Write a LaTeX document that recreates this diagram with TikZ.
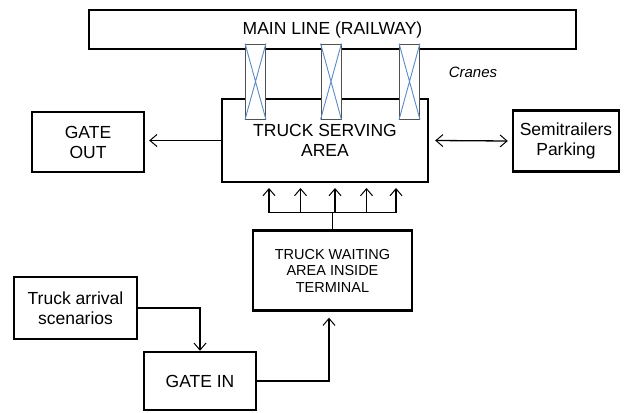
\documentclass[tikz,border=0pt]{standalone}
\usepackage{fontspec}
\setmainfont{Liberation Sans}
\usetikzlibrary{arrows.meta,positioning,calc}
\definecolor{CraneBlue}{HTML}{5B8BC9}
\definecolor{CraneEdge}{HTML}{505050}

\tikzset{
  blockbox/.style={draw=black,line width=2.4pt,fill=white,align=center,
        inner sep=0pt,font=\fontsize{17.5}{20}\selectfont},
  cranebox/.style={draw=CraneEdge,line width=0.8pt,fill=white,
        minimum width=20pt,minimum height=75pt,inner sep=0pt},
  barb/.tip={Straight Barb[length=7pt,width=12pt,line width=1pt]},
  flow/.style={line width=1.3pt,-barb}
}

\begin{document}
\begin{tikzpicture}[x=1pt,y=-1pt]
  \useasboundingbox (0,0) rectangle (626,412);
  % blocks
  \node[blockbox,minimum width=487pt,minimum height=39pt] (mainline) at (332.5,29.5)
    {MAIN LINE (RAILWAY)};
  \node[blockbox,minimum width=206pt,minimum height=83pt] (serving) at (325,140.5)
    {TRUCK SERVING\\AREA};
  \node[blockbox,minimum width=112pt,minimum height=60pt] (gateout) at (88,142)
    {GATE\\OUT};
  \node[blockbox,minimum width=106pt,minimum height=61pt] (parking) at (566,141)
    {Semitrailers\\Parking};
  \node[blockbox,minimum width=159pt,minimum height=80pt,
        font=\fontsize{14.5}{16.5}\selectfont] (waiting) at (332.5,270.5)
    {TRUCK WAITING\\AREA INSIDE\\TERMINAL};
  \node[blockbox,minimum width=123pt,minimum height=62pt] (arrival) at (75.5,308)
    {Truck arrival\\scenarios};
  \node[blockbox,minimum width=112pt,minimum height=58pt] (gatein) at (200,381)
    {GATE IN};
  % cranes
  \foreach \cx/\nm in {255.5/c1,331/c2,409.5/c3}{
    \node[cranebox] (\nm) at (\cx,81.5) {};
    \draw[CraneBlue,line width=0.9pt] (\nm.north west) -- (\nm.south east)
      (\nm.north east) -- (\nm.south west);
  }
  \node[font=\itshape\fontsize{15}{16}\selectfont] (craneslabel) at (473,72) {Cranes};
  % connectors
  \coordinate (goutin) at ($(serving.west -| gateout.east)+(4,0)$);
  \draw[flow] (serving.west) -- (goutin);
  \draw[line width=1.3pt,barb-barb]
    ($(serving.east)+(6,0)$) -- ($(parking.west)+(-4,0)$);
  \coordinate (fork) at (waiting.north |- 0,212.5);
  \draw[line width=1.3pt] (waiting.north) -- (fork);
  \draw[line width=1.3pt] (269,212.5) -- (396,212.5);
  \foreach \ax in {269,300.5,335,366.5,396}{
    \draw[flow] (\ax,212.5) -- (\ax,188);
  }
  \coordinate (waitin) at ($(waiting.south)+(-3.5,6)$);
  \draw[flow] (arrival.east) -| (gatein.north);
  \draw[flow] (gatein.east) -| (waitin);
\end{tikzpicture}
\end{document}
